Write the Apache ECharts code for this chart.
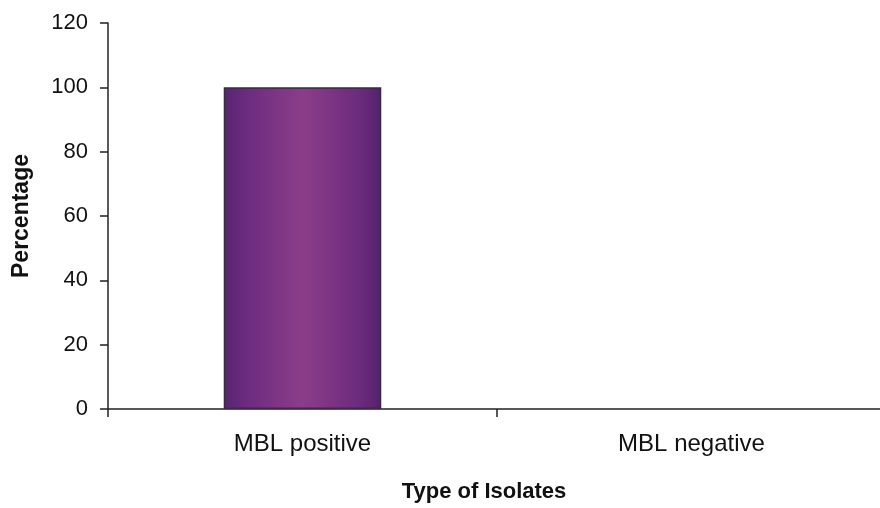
<!DOCTYPE html>
<html><head><meta charset="utf-8">
<script src="https://cdn.jsdelivr.net/npm/echarts@6/dist/echarts.min.js"></script>
<style>html,body{margin:0;padding:0;background:#fff}#c{width:880px;height:508px}</style>
</head><body><div id="c"></div>
<script>
var categories = ['MBL positive', 'MBL negative'];
var values = [100, 0];
var yTicks = [0, 20, 40, 60, 80, 100, 120];

var chart = echarts.init(document.getElementById('c'));
chart.setOption({
  animation: false,
  grid: {left: 108, width: 778, top: 23, height: 386, outerBoundsMode: 'none', containLabel: false},
  xAxis: {
    type: 'category', data: categories,
    name: 'Type of Isolates', nameLocation: 'middle', nameGap: 72,
    nameTextStyle: {fontFamily: 'Liberation Sans', fontSize: 22, fontWeight: 'bold', color: '#111', padding: [0, 26, 0, 0]},
    axisLine: {lineStyle: {color: '#222', width: 1.5}},
    axisTick: {show: true, length: 8, lineStyle: {color: '#222', width: 1.5}, alignWithLabel: false},
    axisLabel: {fontFamily: 'Liberation Sans', fontSize: 24, color: '#111', margin: 23}
  },
  yAxis: {
    type: 'value', min: 0, max: 120, interval: 20,
    name: 'Percentage', nameLocation: 'middle', nameGap: 75, nameRotate: 90,
    nameTextStyle: {fontFamily: 'Liberation Sans', fontSize: 23, fontWeight: 'bold', color: '#111'},
    axisLine: {show: true, lineStyle: {color: '#222', width: 1.5}},
    axisTick: {show: true, length: 8, lineStyle: {color: '#222', width: 1.5}},
    splitLine: {show: false},
    axisLabel: {fontFamily: 'Liberation Sans', fontSize: 22, color: '#111', margin: 20,
      formatter: function (v) { return yTicks.indexOf(v) >= 0 ? String(v) : ''; }}
  },
  series: [{
    type: 'bar', barWidth: '40.5%',
    data: values.map(function (v) {
      return v > 0 ? v : {value: v, itemStyle: {borderWidth: 0}};
    }),
    itemStyle: {
      borderColor: '#3a2a48', borderWidth: 1.5,
      color: {type: 'linear', x: 0, y: 0, x2: 1, y2: 0, colorStops: [
        {offset: 0, color: '#582470'},
        {offset: 0.15, color: '#6c2c80'},
        {offset: 0.5, color: '#8c3d88'},
        {offset: 0.85, color: '#6c2c7e'},
        {offset: 1, color: '#55226a'}
      ]}
    }
  }]
});
</script></body></html>
